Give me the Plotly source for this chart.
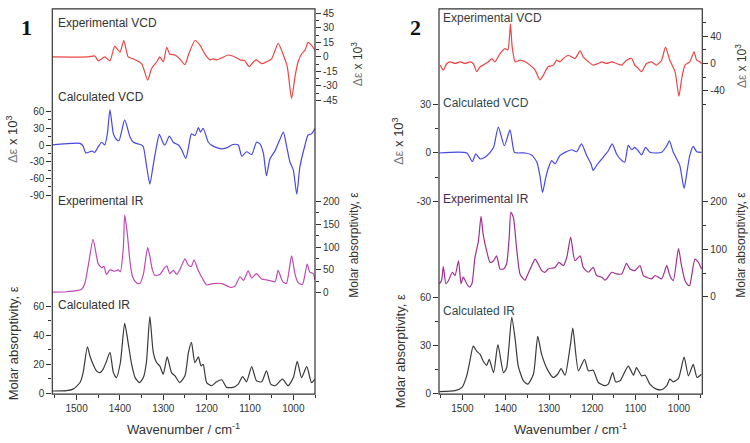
import plotly.graph_objects as go

# ---------------- data ----------------
# Panel 1
p1_expvcd_wn = [1558,1473,1458,1450,1435,1423,1412,1400,1391,1381,1369,1350,1336,1327,1315,1308,1300,1292,1285,1273,1262,1250,1242,1227,1215,1204,1192,1185,1177,1165,1150,1135,1123,1112,1102,1092,1085,1073,1062,1050,1035,1023,1014,1004,996,989,981,973,966,958,950]
p1_expvcd = [0,0,1,-4,0,-4,11,5,17,0,-2,-7,-24,-12,-5,0,-5,10,3,2,-2,-8,2,17,12,3,-3,-2,-3,-1,2,0,-3,-4,-10,-5,-3,-7,-5,-2,14,2,-10,-43,-20,-5,3,7,15,12,7]

p1_calcvcd_wn = [1558,1492,1485,1479,1465,1458,1450,1442,1435,1429,1423,1415,1408,1402,1389,1377,1369,1358,1350,1346,1339,1331,1323,1315,1309,1300,1296,1286,1277,1265,1258,1248,1242,1235,1227,1219,1214,1208,1196,1185,1165,1154,1139,1127,1119,1108,1096,1085,1077,1069,1062,1054,1042,1031,1023,1016,1008,1000,992,985,973,966,958,950]
p1_calcvcd = [0,3,-2,-14,-11,-13,-3,5,0,20,63,20,10,8,45,15,5,2,0,-3,-35,-70,-35,0,19,3,0,16,5,0,-8,-24,-5,20,17,31,23,30,5,-2,-7,-5,1,0,-20,-12,-17,5,2,-15,-55,-25,-10,10,23,0,-30,-45,-88,-40,0,18,20,30]

p1_expir_wn = [1558,1523,1489,1481,1473,1462,1454,1450,1442,1437,1431,1423,1412,1404,1399,1392,1389,1383,1377,1371,1362,1354,1346,1336,1331,1325,1319,1308,1299,1292,1285,1277,1269,1262,1250,1242,1235,1229,1219,1209,1200,1185,1165,1146,1135,1123,1115,1104,1096,1085,1073,1062,1052,1042,1035,1025,1016,1004,996,989,979,968,962,954,950]
p1_expir = [1,2,7,20,60,117,80,63,55,58,40,50,47,50,46,100,171,130,70,35,22,20,40,99,80,50,38,40,52,59,42,49,40,50,74,60,58,72,48,30,17,20,20,12,14,35,27,48,32,42,30,28,26,24,49,25,20,81,40,22,18,63,45,42,28]

p1_calcir_wn = [1558,1523,1508,1492,1485,1475,1469,1462,1454,1446,1439,1431,1423,1415,1408,1399,1389,1381,1373,1365,1355,1346,1339,1331,1323,1315,1308,1300,1291,1281,1273,1262,1250,1242,1235,1227,1219,1213,1208,1200,1189,1177,1165,1154,1139,1127,1117,1108,1096,1085,1073,1062,1052,1042,1025,1012,1000,991,981,969,958,950]
p1_calcir = [1.6,1.8,2.9,7.4,14,32,25.5,20,15.4,14.2,16.5,22,28.2,14.2,10.8,21,48,34.6,20,10.8,7.4,10.8,21,52.8,28,21,18.8,13.1,25,14.2,12,7.4,12,28,35,21,25,18.8,19.9,7.4,5.2,7.9,9.3,4.1,4.1,6.3,11.5,7.9,18.3,8.6,7.9,15.4,6.3,5.2,9.7,5.2,10.8,22,10.8,18.3,7.4,9.7]

# Panel 2
p2_expvcd_wn = [1551,1544,1536,1528,1517,1505,1494,1482,1475,1467,1459,1452,1440,1432,1425,1413,1402,1395,1389,1385,1378,1367,1355,1344,1332,1321,1313,1302,1290,1282,1275,1267,1255,1248,1240,1228,1221,1209,1198,1186,1178,1167,1155,1144,1132,1121,1109,1102,1094,1086,1075,1063,1052,1040,1031,1021,1009,1000,994,986,975,965,959,952,948]
p2_expvcd = [-2.4,-9.6,0,2.4,0,2.4,0,2.4,0,-12,-4.8,-2.4,2.4,7.2,2.4,14.4,21.7,20,58,24,2.4,4.8,2.4,-2.4,-9.6,-24,-17,-4.8,-2.4,4.8,2.4,7.2,12,9.6,7.2,18.3,9.6,2.4,-2.4,0,2.4,0,2.4,0,-2.4,4.8,7.2,-2.4,-7.2,-12,0,2.4,-2.4,4.8,24,4.8,-12,-48,-24,-2.4,2.4,17,4.8,2.4,0]

p2_calcvcd_wn = [1553,1490,1477,1469,1459,1448,1436,1428,1417,1403,1390,1380,1371,1355,1340,1328,1321,1315,1308,1302,1294,1286,1275,1263,1248,1236,1225,1213,1203,1198,1190,1175,1163,1154,1144,1132,1125,1117,1109,1102,1094,1086,1077,1067,1055,1040,1028,1022,1013,1005,998,988,982,975,967,959,948]
p2_calcvcd = [0,0,-5.3,-0.6,-3.7,-2.7,0.4,3.5,16,4.5,14.3,0.4,0,0,-1.2,-5.7,-13.9,-24.5,-15.9,-9.8,-4.7,-6.7,-1.6,0.4,2,0.8,5.7,-1.6,-6.7,-10.8,-7.7,-2.7,1.4,5.7,-0.6,-4.7,-5.7,4.7,2,3.5,1.4,-1.2,3.5,0.4,0,0.4,4.5,7.5,0.4,-3.7,-7.7,-22,-12.9,-1.6,4.1,0.8,0.4]

p2_expir_wn = [1553,1548,1544,1538,1532,1523,1517,1509,1503,1498,1490,1484,1478,1471,1463,1457,1452,1444,1436,1428,1421,1413,1405,1398,1392,1388,1382,1375,1367,1359,1355,1352,1340,1332,1325,1317,1309,1302,1286,1277,1267,1259,1250,1240,1228,1221,1209,1198,1190,1178,1171,1167,1155,1144,1132,1121,1113,1102,1090,1082,1075,1063,1055,1040,1028,1021,1013,1001,994,986,978,975,963,955,948]
p2_expir = [27.6,35,63.5,27.6,34.5,51.8,44.9,75.9,27.6,41.4,27.6,20.7,27.6,82.8,117,169,131,96.6,72.5,75.9,86.3,58.7,58.7,69,124,178,166,103.5,48.3,37.9,35,41.4,65.6,79.4,69,55.2,51.8,58.7,62,72.5,65.6,82.8,125.6,75.9,86.3,62,51.8,62,44.9,41.4,35,37.9,51.8,48.3,48.3,70.4,58.7,55.2,65.6,44.9,41.4,37.9,44.9,37.9,65.6,44.9,34.5,101.4,65.6,34.5,24,24.2,79.4,72.5,58.7]

p2_calcir_wn = [1553,1517,1501,1490,1482,1475,1467,1459,1452,1444,1438,1428,1418,1405,1398,1386,1378,1371,1359,1349,1336,1326,1317,1302,1290,1280,1272,1263,1251,1245,1232,1218,1209,1198,1186,1171,1163,1153,1146,1136,1117,1105,1098,1086,1078,1067,1052,1040,1028,1021,1013,1001,988,978,967,958,948]
p2_calcir = [1.4,2,4,11.2,21.4,29.6,26.5,24.5,20.4,17.7,21.4,13.2,30.6,13.2,16,47.5,33.6,17.3,8.1,6.1,12.2,35.7,24.5,14.3,10.2,12.2,15.7,11.6,29.6,40.8,14.3,21.4,14.3,14.7,7.1,5.1,6.1,13.2,7.5,8.1,17.3,11.6,16.3,11.2,11.6,6.1,3,2.6,5.1,9.2,7.5,9.6,22.8,11.2,18.3,10.2,12.2]

# tick labels
x_ticks = [1500, 1400, 1300, 1200, 1100, 1000]
x_minor = [1550, 1450, 1350, 1250, 1150, 1050, 950]
p1_expvcd_ticks = [45, 30, 15, 0, -15, -30, -45]
p1_calcvcd_ticks = [60, 30, 0, -30, -60, -90]
p1_expir_ticks = [200, 150, 100, 50, 0]
p1_calcir_ticks = [60, 40, 20, 0]
p2_expvcd_ticks = [80, 40, 0, -40]
p2_calcvcd_ticks = [30, 0, -30]
p2_expir_ticks = [200, 100, 0]
p2_calcir_ticks = [60, 30, 0]

# ---------------- layout helpers ----------------
W, H = 750, 443
def px(x):
    return x / W
def py(y):
    return (H - y) / H

FONT = "Arial, Liberation Sans, sans-serif"
TICKC = "#333333"
ydom = [py(398.5), py(8)]
p1_dom = [px(52.3), px(315)]
p2_dom = [px(439), px(702.3)]

C_RED = "#ee4444"
C_BLUE = "#4848e6"
C_MAG1 = "#c048b4"
C_MAG2 = "#a0308e"
C_BLK = "#3a3a3a"

def yax(ticks, minor, rng, side, overlay=None, anchor="x"):
    d = dict(domain=ydom, range=rng, side=side, anchor=anchor,
             showgrid=False, zeroline=False, showline=False,
             ticks="outside", ticklen=5, tickwidth=1, tickcolor=TICKC,
             tickvals=ticks, ticktext=[str(t) for t in ticks],
             tickfont=dict(family=FONT, size=10, color=TICKC),
             minor=dict(tickvals=minor, ticks="outside", ticklen=3,
                        tickwidth=1, tickcolor=TICKC, showgrid=False))
    if overlay:
        d["overlaying"] = overlay
    return d

def xax(dom, rng, anchor):
    return dict(domain=dom, range=rng, anchor=anchor, showgrid=False,
                zeroline=False, showline=False, ticks="outside", ticklen=5,
                tickwidth=1, tickcolor=TICKC, tickvals=x_ticks,
                ticktext=[str(t) for t in x_ticks],
                tickfont=dict(family=FONT, size=10, color=TICKC),
                minor=dict(tickvals=x_minor, ticks="outside", ticklen=3,
                           tickwidth=1, tickcolor=TICKC, showgrid=False))

fig = go.Figure()

def add(xs, ys, color, xa, ya):
    fig.add_trace(go.Scatter(x=xs, y=ys, mode="lines", xaxis=xa, yaxis=ya,
                             line=dict(color=color, width=1.2, shape="spline",
                                       smoothing=0.6),
                             hoverinfo="skip", showlegend=False))

add(p1_calcir_wn, p1_calcir, C_BLK, "x", "y")
add(p1_calcvcd_wn, p1_calcvcd, C_BLUE, "x", "y2")
add(p1_expir_wn, p1_expir, C_MAG1, "x", "y3")
add(p1_expvcd_wn, p1_expvcd, C_RED, "x", "y4")
add(p2_calcir_wn, p2_calcir, C_BLK, "x2", "y5")
add(p2_calcvcd_wn, p2_calcvcd, C_BLUE, "x2", "y6")
add(p2_expir_wn, p2_expir, C_MAG2, "x2", "y7")
add(p2_expvcd_wn, p2_expvcd, C_RED, "x2", "y8")

layout = dict(
    width=W, height=H, margin=dict(l=0, r=0, t=0, b=0),
    paper_bgcolor="white", plot_bgcolor="white", showlegend=False,
    xaxis=xax(p1_dom, [1556, 950], "y"),
    xaxis2=xax(p2_dom, [1554, 946], "y5"),
    yaxis=yax(p1_calcir_ticks, [10, 30, 50], [-0.54, 264.2], "left"),
    yaxis2=yax(p1_calcvcd_ticks, [45, 15, -15, -45, -75], [-445.7, 243.6], "left", "y"),
    yaxis3=yax(p1_expir_ticks, [175, 125, 75, 25], [-222.6, 622.9], "right", "y"),
    yaxis4=yax(p1_expvcd_ticks, [37.5, 22.5, 7.5, -7.5, -22.5, -37.5], [-348.8, 49.7], "right", "y"),
    yaxis5=yax(p2_calcir_ticks, [45, 15], [-0.12, 238.9], "left", None, "x2"),
    yaxis6=yax(p2_calcvcd_ticks, [15, -15], [-149.6, 89.4], "left", "y5", "x2"),
    yaxis7=yax(p2_expir_ticks, [150, 50], [-203.9, 604.4], "right", "y5", "x2"),
    yaxis8=yax(p2_expvcd_ticks, [60, 20, -20, -60], [-484.0, 79.9], "right", "y5", "x2"),
)
fig.update_layout(**layout)

# frames
for x0, x1 in [(52.3, 315), (439, 702.3)]:
    fig.add_shape(type="rect", xref="paper", yref="paper",
                  x0=px(x0), x1=px(x1), y0=py(398.5), y1=py(8),
                  line=dict(color="#333333", width=1.2), fillcolor="rgba(0,0,0,0)")

def note(text, x, y, size=12, angle=0, color="#333333", xanchor="left", family=FONT, bold=False):
    if bold:
        text = "<b>" + text + "</b>"
    fig.add_annotation(text=text, x=px(x), y=py(y), xref="paper", yref="paper",
                       showarrow=False, textangle=angle, xanchor=xanchor,
                       yanchor="middle", font=dict(family=family, size=size, color=color))

# series labels
note("Experimental VCD", 56, 22)
note("Calculated VCD", 56, 97)
note("Experimental IR", 56, 203)
note("Calculated IR", 56, 308)
note("Experimental VCD", 441, 17, color="#3a3a3a")
note("Calculated VCD", 441, 103, color="#2e4a55")
note("Experimental IR", 441, 201, color="#4a2a48")
note("Calculated IR", 441, 314, color="#2e4a55")

# axis titles
DE = "<span style='color:#777'>Δε</span> x 10<sup>3</sup>"
MA = "Molar absorptivity, ε"
note(DE, 12, 140, size=13, angle=-90, xanchor="center")
note(MA, 13, 347, size=13, angle=-90, xanchor="center")
note(DE, 357, 64, size=12, angle=-90, xanchor="center")
note(MA, 354, 247, size=12, angle=-90, xanchor="center")
note(DE, 398, 142, size=13, angle=-90, xanchor="center")
note(MA, 400, 355, size=13, angle=-90, xanchor="center")
note(DE, 741, 66, size=12, angle=-90, xanchor="center")
note(MA, 741, 247, size=12, angle=-90, xanchor="center")

note("Wavenumber / cm<sup>-1</sup>", 183, 434, size=13, xanchor="center")
note("Wavenumber / cm<sup>-1</sup>", 570, 434, size=13, xanchor="center")

# panel numbers
note("1", 27, 27, size=22, xanchor="center", family="Liberation Serif, Times New Roman, serif", bold=True, color="#111")
note("2", 415, 27, size=22, xanchor="center", family="Liberation Serif, Times New Roman, serif", bold=True, color="#111")

fig.write_html("out.html", config={"displayModeBar": False},
               post_script="document.body.style.margin='0';document.body.style.overflow='hidden';")
